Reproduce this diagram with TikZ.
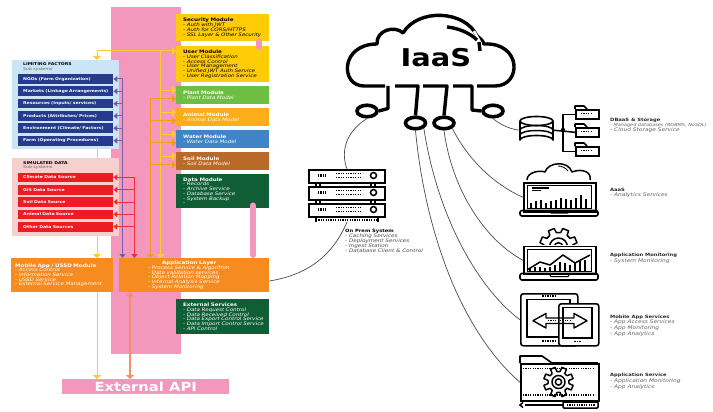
\documentclass[tikz,border=0pt]{standalone}
\usepackage{fontspec}
\setmainfont[FakeStretch=1.18]{DejaVu Sans}
\usetikzlibrary{arrows.meta,calc,shapes.geometric}
\definecolor{cpink}{HTML}{F497BD}
\definecolor{cyel}{HTML}{FFCC05}
\definecolor{cyl}{HTML}{FFCB2E}
\definecolor{cgreen}{HTML}{6FBE44}
\definecolor{cambe}{HTML}{FBAE17}
\definecolor{cwat}{HTML}{3F85C6}
\definecolor{csoil}{HTML}{B96A28}
\definecolor{cdark}{HTML}{0F5E36}
\definecolor{corg}{HTML}{F68B1F}
\definecolor{cblue}{HTML}{263B8E}
\definecolor{cred}{HTML}{ED1C24}
\definecolor{clb}{HTML}{CBE5F6}
\definecolor{clr}{HTML}{F6CFCF}
\definecolor{cpur}{HTML}{7B5FA8}
\tikzset{
  modbox/.style={anchor=north west,inner ysep=0pt,inner xsep=7pt,minimum height=#1,align=left,
     font=\fontsize{4.7}{4.7}\selectfont},
  strip/.style={anchor=north west,inner sep=0pt,text=white,minimum width=95,minimum height=9.6,
     font=\fontsize{3.9}{4.8}\selectfont\bfseries,text width=85,align=left},
  sidetxt/.style={anchor=north west,inner sep=0pt,align=left,text=#1,font=\fontsize{4.8}{4.8}\selectfont},
  rtxt/.style={anchor=north west,inner sep=0pt,align=left,text=black!60,font=\fontsize{5}{4.7}\selectfont},
  yl/.style={draw=cyl,line width=1pt,-{Triangle[length=4pt,width=8pt,fill=cyl]}},
  ol/.style={draw=corg!85!yellow,line width=1pt,-{Triangle[length=4pt,width=7pt,fill=corg]}},
  pl/.style={draw=cpur,line width=1pt,-{Triangle[length=4pt,width=6pt,fill=cblue]}},
  rl/.style={draw=cred!85!cpink,line width=1pt,-{Triangle[length=4pt,width=6pt,fill=cred]}},
  pinkbar/.style={draw=cpink,line width=6pt,line cap=round},
  thin wire/.style={draw=black!70,line width=.7pt},
  ico/.style={draw=black,line width=1.5pt,line join=round},
  dotl/.style={draw=black,line width=1.5pt,dash pattern=on 1.2pt off 1.2pt},
}
\newcommand{\hd}[1]{\textbf{#1}}
\newcommand{\rh}[1]{{\fontsize{4.4}{4.7}\selectfont\textbf{\textcolor{black!85}{#1}}}}
\newcommand{\itm}[1]{\\\mbox{\textit{- #1}}}
\newcommand{\gearicon}[3]{% center, outer radius, inner
  \begin{scope}[shift={(#1)}]
  \foreach \a in {0,45,...,315}
    \draw[ico] (\a+8.5:#3) -- (\a+13:#2) -- (\a+32:#2) -- (\a+36.5:#3) -- (\a+53.5:#3);
  \draw[ico] (0,0) circle (#3*.62);
  \draw[ico] (0,0) circle (#3*.3);
  \end{scope}
}
\begin{document}
\begin{tikzpicture}[x=1pt,y=-1pt]
\useasboundingbox (0,0) rectangle (713,412);
\fill[white] (0,0) rectangle (713,412);
\fill[cpink] (111,7) rectangle (181,354);
% panels
\node[anchor=north west,fill=clb,minimum width=107,minimum height=89,inner sep=0] (lim) at (12,60) {};
\node[anchor=north west,inner sep=0,font=\fontsize{3.9}{4.8}\selectfont,align=left] (limt) at (23,62.5) {\textbf{LIMITING FACTORS}\\\textit{\textcolor{black!60}{Sub systems}}};
\node[anchor=north west,fill=clr,minimum width=107,minimum height=78,inner sep=0] (sim) at (12,158) {};
\node[anchor=north west,inner sep=0,font=\fontsize{3.9}{4.8}\selectfont,align=left] (simt) at (23,161) {\textbf{SIMULATED DATA}\\\textit{\textcolor{black!60}{Sub systems}}};
\foreach \n/\y/\t in {b1/74/{NGOs (Farm Organization)},b2/86.3/{Markets (Linkage Arrangements)},b3/98.7/{Resources (Inputs/ services)},b4/111/{Products (Attributes/ Prices)},b5/123.3/{Environment (Climate/ Factors)},b6/135.7/{Farm (Operating Procedures)}}
  \node[strip,fill=cblue] (\n) at (18,\y) {\mbox{\t}};
\foreach \n/\y/\t in {r1/172.3/Climate Data Source,r2/184.7/GIS Data Source,r3/197/Soil Data Source,r4/209.3/Animal Data Source,r5/221.7/Other Data Sources}
  \node[strip,fill=cred] (\n) at (18,\y) {\mbox{\t}};
% modules
\node[modbox=27,fill=cyel,text width=79] (sec) at (176,14) {\hd{Security Module}\itm{Auth with JWT}\itm{Auth for CORS/HTTPS}\itm{SSL Layer \& Other Security}};
\node[modbox=36,fill=cyel,text width=79] (usr) at (176,46) {\hd{User Module}\itm{User Classification}\itm{Access Control}\itm{User Management}\itm{Unified JWT Auth Service}\itm{User Registration Service}};
\node[modbox=18,fill=cgreen,text width=79,text=white] (plant) at (176,86) {\hd{Plant Module}\itm{Plant Data Model}};
\node[modbox=18,fill=cambe,text width=79,text=white] (anim) at (176,108) {\hd{Animal Module}\itm{Animal Data Model}};
\node[modbox=18,fill=cwat,text width=79,text=white] (wat) at (176,130) {\hd{Water Module}\itm{Water Data Model}};
\node[modbox=18,fill=csoil,text width=79,text=white] (soil) at (176,152) {\hd{Soil Module}\itm{Soil Data Model}};
\node[modbox=34,fill=cdark,text width=79,text=white] (data) at (176,174) {\hd{Data Module}\itm{Records}\itm{Archive Service}\itm{Database Service}\itm{System Backup}\\\textit{-}};
\node[modbox=34,fill=corg,text width=94,inner xsep=4pt,text=white] (mob) at (11,258) {\hd{Mobile App / USSD Module}\itm{Access Control}\itm{Information Service}\itm{USSD Service}\itm{External Service Management}};
\node[modbox=34,fill=corg,text width=92,inner xsep=29pt,text=white,minimum width=150] (app) at (119,258) {\hspace*{14pt}\hd{Application Layer}\itm{Process Service \& Algorithm}\itm{Data validation services}\itm{Object Relation Mapping}\itm{Internal Analysis Service}\itm{System Monitoring}};
\node[modbox=35,fill=cdark,text width=79,text=white] (ext) at (176,299) {\hd{External Services}\itm{Data Request Control}\itm{Data Received Control}\itm{Data Export Control Service}\itm{Data Import Control Service}\itm{API Control}};
\node[anchor=north west,fill=cpink,minimum width=167,minimum height=15,inner sep=0,text=white,font=\fontsize{12.5}{13}\selectfont\bfseries] (api) at (62,379) {External API};
% connectors left
\coordinate (ybus) at (160.7,51);
\coordinate (obus) at (150.3,98.7);
\coordinate (pbus) at (122.5,78);
\coordinate (rbus) at (134.5,177);
\coordinate (ytop) at (97,51);
\draw[yl] (ytop) -- (usr.west |- ytop);
\draw[yl] (ytop) -- (lim.north -| ytop);
\draw[cyl,line width=1pt] (lim.south -| ytop) -- (sim.north -| ytop);
\draw[yl] (sim.south -| ytop) -- (mob.north -| ytop);
\draw[yl] (mob.south -| ytop) -- (api.north -| ytop);
\draw[yl] (ybus) -- (app.north -| ybus);
\draw[ol] (obus) -- (app.north -| obus);
\draw[pl] (pbus) -- (app.north -| pbus);
\draw[rl] (rbus) -- (app.north -| rbus);
\foreach \n in {plant,anim,wat,soil}{
  \path ([yshift=5pt]\n.west) coordinate (ty) ([yshift=-3.7pt]\n.west) coordinate (to);
  \draw[yl] (ybus |- ty) -- (ty);
  \draw[ol] (obus |- to) -- (to);
}
\foreach \n in {b1,b2,b3,b4,b5,b6} \draw[pl] (pbus |- \n.east) -- (\n.east);
\foreach \n in {r1,r2,r3,r4,r5} \draw[rl] (rbus |- \n.east) -- (\n.east);
\coordinate (apix) at (130,300);
\draw[draw=corg!55!cpink,line width=1.2pt,{Triangle[length=4pt,width=8pt,fill=corg!80!cpink]}-{Triangle[length=4pt,width=8pt,fill=corg!80!cpink]}] (app.south -| apix) -- (api.north -| apix);
\coordinate (pbx) at (259,30);
\coordinate (pby) at (253,230);
\draw[pinkbar] (sec.south -| pbx) -- ([yshift=-1pt]usr.north -| pbx);
\draw[pinkbar] (data.south -| pby) ++(0,-3) -- ([yshift=3pt]app.north -| pby);
% cloud
\draw[line width=3.4pt,line cap=butt,line join=round] (385,86) -- (364,86) .. controls (340,86) and (340,44) .. (377,44)
  .. controls (376,30) and (395,25) .. (403,33)
  .. controls (418,8) and (465,10) .. (477,36);
\draw[line width=3.4pt,line join=round] (477,36) .. controls (480,38) and (483,41) .. (484,44)
  .. controls (522,42) and (522,86) .. (495,86) -- (477,86);
\draw[line width=2.6pt,draw=white] (474,31) -- (481,44);
\draw[line width=3.4pt] (447,27) .. controls (458,28) and (470,33) .. (477,40);
\draw[line width=3.4pt] (479,42) -- (480,51);
\node[inner sep=0,font=\fontsize{24.5}{25}\selectfont\bfseries] (iaas) at (436,58) {IaaS};
\coordinate (e1) at (388,86);
\coordinate (e2) at (395,86);
\coordinate (e3) at (423,86);
\coordinate (e4) at (453,86);
\foreach \n/\x/\y in {c1/367/111,c2/415.5/123,c3/444/123,c4/493/111}
  \node[ellipse,draw=black,line width=3.6pt,fill=white,inner sep=0,minimum width=20pt,minimum height=11.5pt] (\n) at (\x,\y) {};
\draw[line width=3.4pt,line join=round] (e1) -- (388,108.5) -- (c1.east);
\draw[line width=3.4pt,line join=round] (e2) -- (418,86) -- (c2.north);
\draw[line width=3.4pt,line join=round] (e3) -- (447,86) -- (c3.north);
\draw[line width=3.4pt,line join=round] (e4) -- (472,86) -- (472,110) -- (c4.west);
% On-prem icon
\foreach \n/\y in {s1/169,s2/186,s3/203}{
  \node[draw=black,line width=1.7pt,anchor=north west,inner sep=0,minimum width=76,minimum height=13,fill=white] (\n) at (308,\y) {};
  \draw[line width=3pt,dash pattern=on 1.2pt off 1.2pt] (318,\y+6.5) -- (327,\y+6.5);
  \draw[line width=1.2pt,dash pattern=on 1.2pt off 1.2pt] (336,\y+4.5) -- (362,\y+4.5);
  \draw[line width=1.2pt,dash pattern=on 1.2pt off 1.2pt] (336,\y+8.5) -- (362,\y+8.5);
  \draw[line width=1.5pt] (373.5,\y+6.5) circle (3);
}
\foreach \x in {316,320,371,375} \draw[line width=1.2pt] (\x,182) -- (\x,186) (\x,199) -- (\x,203);
\draw[line width=1.7pt] (316,216) -- (316,222) (378,216) -- (378,222);
\draw[line width=1.3pt,dash pattern=on 1.2pt off 1.2pt] (316,220) -- (378,220);
\node[sidetxt=black!70] (onprem) at (345,229.5) {{\fontsize{4.4}{4.8}\selectfont\textbf{\textcolor{black}{On Prem System}}}\\\textit{- Caching Services}\\\textit{- Deployment Services}\\\textit{- Ingest Station}\\\textit{- Database Client \& Control}};
\coordinate (srvtop) at (347,169);
\coordinate (srvbot) at (347,222);
\draw[thin wire] (c1.south) .. controls (347,131) and (340,150) .. (srvtop);
\draw[thin wire] (app.east |- 0,281) .. controls (300,276) and (330,262) .. (srvbot);
% DB
\draw[line width=1.6pt,fill=white,line join=round] (520,121) -- (520,140) arc[start angle=180,end angle=360,x radius=16.5,y radius=4.5] -- (553,121) arc[start angle=0,end angle=180,x radius=16.5,y radius=4.5] arc[start angle=180,end angle=360,x radius=16.5,y radius=4.5] ;
\node[inner sep=0,minimum width=33,minimum height=28,anchor=north west] (db) at (520,116) {};
\draw[ico] (520,130) arc[start angle=180,end angle=360,x radius=16.5,y radius=4.5];
\draw[ico] (520,135) arc[start angle=180,end angle=360,x radius=16.5,y radius=4.5];
\foreach \n/\y in {f1/106,f2/124,f3/143}{
  \node[draw=black,line width=1.6pt,anchor=north west,inner sep=0,minimum width=23,minimum height=9] (\n) at (575,\y+3) {};
  \draw[line width=1.6pt,line join=round] (575,\y+3) -- (575,\y) -- (584,\y) -- (587,\y+3);
  \draw[line width=1.4pt,dash pattern=on 1.2pt off 1.2pt] (581,\y+7.5) -- (592,\y+7.5);
}
\coordinate (br) at (563,130);
\draw[ico] (f1.west) -- (br |- f1.west) -- (br |- f3.west) -- (f3.west);
\draw[ico] (db.east) -- (f2.west);
\fill (br) circle (2.2);
\draw[thin wire] (c4.south) .. controls (497,122) and (507,129) .. (db.west);
% AaaS laptop
\node[draw=black,line width=1.6pt,anchor=north west,inner sep=0,minimum width=72,minimum height=29] (lap1) at (523,182) {};
\draw[line width=.8pt] (527,185) rectangle (591,208);
\draw[line width=1.6pt,rounded corners=2pt] (520,210.5) rectangle (598,216);
\draw[line width=1pt] (549,210.5) -- (551,213) -- (568,213) -- (570,210.5);
\draw[ico] (527,180) .. controls (527,172) and (540,170) .. (545,172) .. controls (548,162) and (568,160) .. (572,172) .. controls (582,168) and (592,172) .. (590,180);
\draw[line width=.8pt] (558,166) .. controls (562,166) and (566,168) .. (568,171);
\draw[line width=1.3pt] (532,188) -- (549,188);
\draw[line width=.8pt] (532,190.5) -- (541,190.5);
\foreach \x/\h in {531/5,536/7,541/8,546/5,551/7,556/8,561/10,566/9,571/8,576/10,581/13,586/9}
  \draw[line width=2.2pt] (\x,207.5) -- (\x,207.5-\h);
% Monitoring laptop
\node[draw=black,line width=1.6pt,anchor=north west,inner sep=0,minimum width=72,minimum height=28] (lap2) at (523,245.5) {};
\draw[line width=.8pt] (527,249) rectangle (591,271);
\draw[line width=1.6pt,rounded corners=2pt] (520,273.5) rectangle (598,280);
\draw[line width=1pt] (549,273.5) -- (551,276.5) -- (568,276.5) -- (570,273.5);
\foreach \x/\h in {530/3,535/4,540/4,545/3,550/4,555/6,560/9,565/8,570/6,575/8,580/11,585/11}
  \draw[line width=1.5pt] (\x,271) -- (\x,271-\h);
\draw[line width=1.5pt,line join=round] (527,270) -- (540,262) -- (550,265) -- (563,255) -- (575,263) -- (590,255);
\begin{scope}
  \clip (530,225) rectangle (590,244.5);
  \gearicon{558.5,247}{19}{14.5}
\end{scope}
% Mobile icon
\node[draw=black,line width=1.6pt,rounded corners=2.5pt,anchor=north west,inner sep=0,minimum width=57,minimum height=52] (tab1) at (520,293) {};
\draw[line width=1.1pt] (527,299.5) rectangle (570,337);
\draw[line width=1.6pt,dash pattern=on 1.5pt off 1pt] (542,295.8) -- (555,295.8) (542,341) -- (555,341);
\node[draw=black,line width=1.6pt,rounded corners=2.5pt,anchor=north west,inner sep=0,minimum width=40,minimum height=42,fill=white] (tab2) at (558,303) {};
\draw[line width=1.1pt] (563,307.5) rectangle (592,338);
\draw[line width=1.4pt,dash pattern=on 1.5pt off 1pt] (574,341.5) -- (581,341.5);
\draw[line width=1.4pt,line join=round] (533,320.7) -- (546,313.5) -- (546,318) -- (574,318) -- (574,313.5) -- (587,320.7) -- (574,328) -- (574,323.5) -- (546,323.5) -- (546,328) -- cycle;
\draw[line width=1.3pt,dash pattern=on 1.2pt off 1.2pt] (548,320.7) -- (572,320.7);
% Folder icon
\draw[line width=1.6pt,line join=round] (520,363) -- (520,356) -- (542,356) -- (552,363) -- (598,363);
\node[draw=black,line width=1.6pt,anchor=north west,inner sep=0,minimum width=78,minimum height=37] (fold) at (520,363) {};
\draw[dotl] (523,368.7) -- (595,368.7);
\draw[dotl] (523,395) -- (595,395);
\gearicon{558.5,382}{15}{10.5}
\draw[line width=1.5pt,rounded corners=1pt] (563,402) rectangle (598,408);
\draw[line width=1.5pt] (525,405) -- (563,405);
\draw[line width=1.5pt] (523,402.5) -- (520,405) -- (523,407.5);
\draw[line width=1.3pt,dash pattern=on 1.2pt off 1.2pt] (567,405) -- (595,405);
% wires to icons
\draw[thin wire] (c3.south east) .. controls (468,160) and (495,185) .. (lap1.west);
\draw[thin wire] (c3.south) .. controls (452,190) and (485,240) .. (lap2.west);
\draw[thin wire] (c2.south east) .. controls (438,220) and (480,290) .. (tab1.west);
\draw[thin wire] (c2.south) .. controls (425,230) and (460,330) .. (fold.west);
% right text
\node[rtxt] (t1) at (610,118.5) {\rh{DBaaS \& Storage}\\{\fontsize{4.2}{4.7}\selectfont\textit{- Managed databases (RDBMS, NoSQL)}}\\\textit{- Cloud Storage Service}};
\node[rtxt] (t2) at (610,188) {\rh{AaaS}\\\textit{- Analytics Services}};
\node[rtxt] (t3) at (610,253) {\rh{Application Monitoring}\\\textit{- System Monitoring}};
\node[rtxt] (t4) at (610,314.5) {\rh{Mobile App Services}\\\textit{- App Access Services}\\\textit{- App Monitoring}\\\textit{- App Analytics}};
\node[rtxt] (t5) at (610,373) {\rh{Application Service}\\\textit{- Application Monitoring}\\\textit{- App Analytics}};
\end{tikzpicture}
\end{document}
